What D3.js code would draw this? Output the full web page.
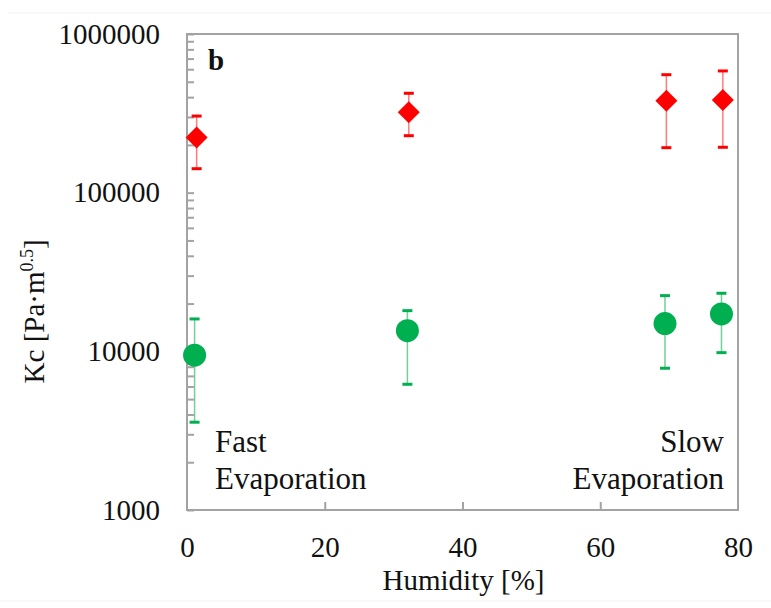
<!DOCTYPE html>
<html>
<head>
<meta charset="utf-8">
<script src="https://cdn.jsdelivr.net/npm/d3@7"></script>
<style>
  body { margin: 0; background: #fff; }
  text { font-family: "Liberation Serif", "Times New Roman", serif; fill: #111; }
</style>
</head>
<body>
<div id="chart"></div>
<script>
// humidity [%] and Kc [Pa·m^0.5]
var redHumidity = [1.4, 32.2, 69.6, 77.8];
var redKc = [223000, 321000, 380000, 384000];
var redHigh = [304000, 423000, 554000, 585000];
var redLow = [141600, 228600, 192100, 193200];

var greenHumidity = [1.1, 32.0, 69.4, 77.6];
var greenKc = [9450, 13500, 14950, 17210];
var greenHigh = [16000, 18050, 22440, 23230];
var greenLow = [3575, 6200, 7825, 9810];

var xTicks = [0, 20, 40, 60, 80];
var yTicks = [1000, 10000, 100000, 1000000];

var margin = { top: 34, right: 33, bottom: 98, left: 187 },
    width = 771 - margin.left - margin.right,
    height = 608 - margin.top - margin.bottom;

var x = d3.scaleLinear().domain([0, 80]).range([0, width]);
var y = d3.scaleLog().domain([1000, 1000000]).range([height, 0]);

var root = d3.select("#chart")
    .append("svg")
    .attr("width", 771)
    .attr("height", 608);

// faint page edges from the original scan
root.append("line").attr("x1", 8).attr("x2", 771).attr("y1", 13).attr("y2", 13)
    .attr("stroke", "#f3f3f3");
root.append("line").attr("x1", 0).attr("x2", 771).attr("y1", 601).attr("y2", 601)
    .attr("stroke", "#f3f3f3");

var svg = root.append("g")
    .attr("transform", "translate(" + margin.left + "," + margin.top + ")");

var axisColor = "#a3a3a3";

// minor + major ticks on the y axis, pointing inwards
var minor = [];
yTicks.slice(0, -1).forEach(function(d) {
    for (var k = 1; k < 10; k++) minor.push(d * k);
});
minor.push(1000000);

svg.append("g")
    .call(d3.axisRight(y).tickValues(minor).tickSize(7).tickFormat(""))
    .call(function(g) { g.select(".domain").remove(); })
    .selectAll("line")
    .attr("stroke", axisColor)
    .attr("stroke-width", 2);

svg.append("g")
    .call(d3.axisLeft(y).tickValues(yTicks).tickSize(0).tickPadding(27)
        .tickFormat(d3.format("d")))
    .call(function(g) { g.select(".domain").remove(); })
    .selectAll("text")
    .style("font-size", "29px")
    .attr("fill", "#111");

// x axis ticks pointing up
svg.append("g")
    .attr("transform", "translate(0," + height + ")")
    .call(d3.axisTop(x).tickValues([20, 40, 60]).tickSize(8).tickFormat(""))
    .call(function(g) { g.select(".domain").remove(); })
    .selectAll("line")
    .attr("stroke", axisColor)
    .attr("stroke-width", 2);

svg.append("g")
    .attr("transform", "translate(0," + height + ")")
    .call(d3.axisBottom(x).tickValues(xTicks).tickSize(0).tickPadding(26))
    .call(function(g) { g.select(".domain").remove(); })
    .selectAll("text")
    .style("font-size", "29px")
    .attr("fill", "#111");

// frame
svg.append("rect")
    .attr("width", width)
    .attr("height", height)
    .attr("fill", "none")
    .attr("stroke", axisColor)
    .attr("stroke-width", 2);

function errorBars(xs, lo, hi, lineColor, capColor) {
    var g = svg.append("g");
    xs.forEach(function(d, i) {
        g.append("line")
            .attr("x1", x(d)).attr("x2", x(d))
            .attr("y1", y(lo[i])).attr("y2", y(hi[i]))
            .attr("stroke", lineColor)
            .attr("stroke-width", 1.5);
        [lo[i], hi[i]].forEach(function(v) {
            g.append("line")
                .attr("x1", x(d) - 5).attr("x2", x(d) + 5)
                .attr("y1", y(v)).attr("y2", y(v))
                .attr("stroke", capColor)
                .attr("stroke-width", 3);
        });
    });
}

errorBars(redHumidity, redLow, redHigh, "#ff7b7b", "#ff0000");
errorBars(greenHumidity, greenLow, greenHigh, "#6fd196", "#00b050");

svg.selectAll(".diamond")
    .data(redHumidity)
    .enter().append("path")
    .attr("class", "diamond")
    .attr("d", "M0,-11L11,0L0,11L-11,0Z")
    .attr("transform", function(d, i) { return "translate(" + x(d) + "," + y(redKc[i]) + ")"; })
    .attr("fill", "#ff0000");

svg.selectAll(".dot")
    .data(greenHumidity)
    .enter().append("circle")
    .attr("class", "dot")
    .attr("cx", function(d) { return x(d); })
    .attr("cy", function(d, i) { return y(greenKc[i]); })
    .attr("r", 11.5)
    .attr("fill", "#00b050");

// annotations
svg.append("text")
    .attr("x", 21).attr("y", 36)
    .style("font-size", "29px")
    .style("font-weight", "bold")
    .text("b");

svg.append("text").attr("x", 28).attr("y", 418).style("font-size", "31px").text("Fast");
svg.append("text").attr("x", 28).attr("y", 455).style("font-size", "31px").text("Evaporation");
svg.append("text").attr("x", width - 14).attr("y", 418).attr("text-anchor", "end")
    .style("font-size", "31px").text("Slow");
svg.append("text").attr("x", width - 14).attr("y", 455).attr("text-anchor", "end")
    .style("font-size", "31px").text("Evaporation");

// axis titles
svg.append("text")
    .attr("x", width / 2 + 1).attr("y", height + 80)
    .attr("text-anchor", "middle")
    .style("font-size", "29px")
    .text("Humidity [%]");

var yl = svg.append("text")
    .attr("transform", "translate(" + (44 - margin.left) + "," + (y(10000) - 40) + ")rotate(-90)")
    .attr("text-anchor", "middle")
    .style("font-size", "29px");
yl.append("tspan").text("Kc [Pa·m");
yl.append("tspan").attr("dy", -11).style("font-size", "18px").text("0.5");
yl.append("tspan").attr("dy", 11).text("]");
</script>
</body>
</html>
